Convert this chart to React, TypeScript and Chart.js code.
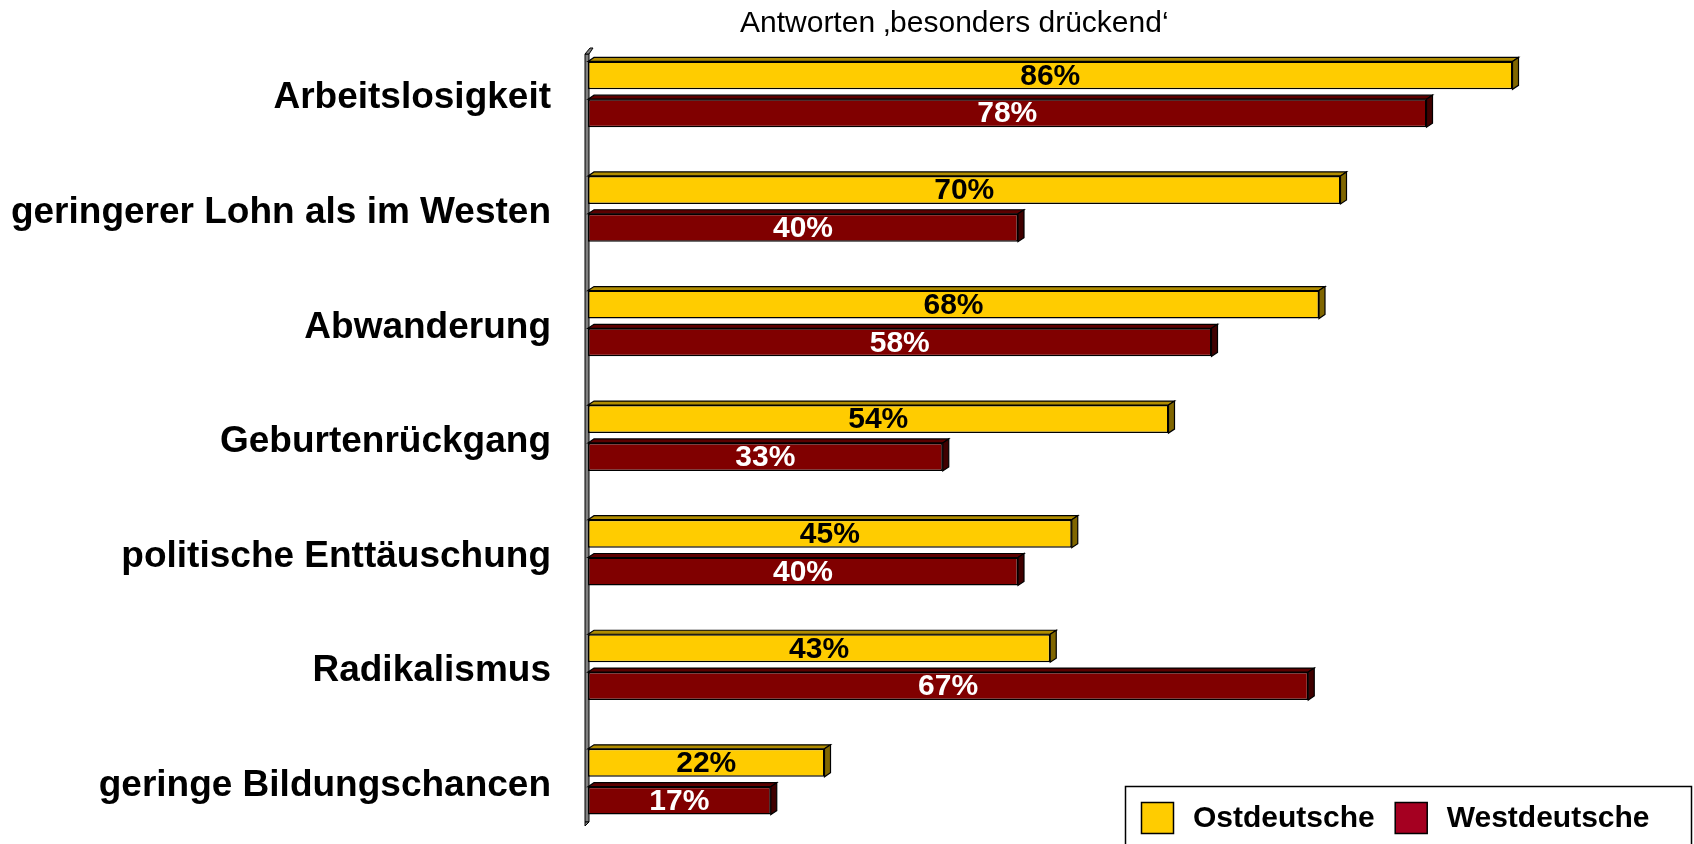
import React, { useEffect, useRef } from "react";
import { Chart, registerables } from "chart.js";

Chart.register(...registerables);

const categories = [
  "Arbeitslosigkeit",
  "geringerer Lohn als im Westen",
  "Abwanderung",
  "Geburtenrückgang",
  "politische Enttäuschung",
  "Radikalismus",
  "geringe Bildungschancen",
];
const ostValues = [86, 70, 68, 54, 45, 43, 22];
const westValues = [78, 40, 58, 33, 40, 67, 17];
const seriesNames = ["Ostdeutsche", "Westdeutsche"];
const titleText = "Antworten ‚besonders drückend‘";

const FONT = "'Liberation Sans', Arial, sans-serif";
const YELLOW = "#FFCC00";
const YELLOW_TOP = "#B08C00";
const YELLOW_SIDE = "#806600";
const RED = "#800000";
const RED_TOP = "#5C0000";
const RED_SIDE = "#400000";
const LEGEND_RED = "#A50021";

const threeD = {
  id: "threeD",
  beforeDatasetsDraw(chart: any) {
    const ctx = chart.ctx;
    const area = chart.chartArea;
    const x0 = area.left;
    ctx.save();
    ctx.fillStyle = "#808080";
    ctx.strokeStyle = "#000";
    ctx.lineWidth = 1;
    ctx.beginPath();
    ctx.rect(x0 - 3, 54, 4, 768);
    ctx.fill();
    ctx.stroke();
    ctx.beginPath();
    ctx.moveTo(x0 - 3, 54);
    ctx.lineTo(x0 + 2, 48);
    ctx.lineTo(x0 + 5, 48);
    ctx.lineTo(x0 + 1, 54);
    ctx.closePath();
    ctx.fill();
    ctx.stroke();
    ctx.beginPath();
    ctx.moveTo(x0 - 3, 822);
    ctx.lineTo(x0 + 1, 822);
    ctx.lineTo(x0 - 3, 826);
    ctx.closePath();
    ctx.fill();
    ctx.stroke();
    ctx.restore();
  },
  afterDatasetsDraw(chart: any) {
    const ctx = chart.ctx;
    const dx = 6;
    const dy = 4;
    ctx.save();
    chart.data.datasets.forEach((ds: any, di: number) => {
      const meta = chart.getDatasetMeta(di);
      const topC = di === 0 ? YELLOW_TOP : RED_TOP;
      const sideC = di === 0 ? YELLOW_SIDE : RED_SIDE;
      meta.data.forEach((bar: any, i: number) => {
        const p = bar.getProps(["x", "y", "base", "height"], true);
        const left = Math.min(p.base, p.x);
        const right = Math.max(p.base, p.x);
        const top = p.y - p.height / 2;
        const bottom = p.y + p.height / 2;
        ctx.lineWidth = 1.2;
        ctx.strokeStyle = "#000";
        ctx.fillStyle = topC;
        ctx.beginPath();
        ctx.moveTo(left, top);
        ctx.lineTo(left + dx, top - dy);
        ctx.lineTo(right + dx, top - dy);
        ctx.lineTo(right, top);
        ctx.closePath();
        ctx.fill();
        ctx.stroke();
        ctx.fillStyle = sideC;
        ctx.beginPath();
        ctx.moveTo(right, top);
        ctx.lineTo(right + dx, top - dy);
        ctx.lineTo(right + dx, bottom - dy);
        ctx.lineTo(right, bottom);
        ctx.closePath();
        ctx.fill();
        ctx.stroke();
        ctx.font = `bold 30px ${FONT}`;
        ctx.textAlign = "center";
        ctx.textBaseline = "middle";
        ctx.fillStyle = di === 0 ? "#000" : "#FFF";
        ctx.fillText(ds.data[i] + "%", (left + right) / 2, p.y + 1);
      });
    });
    ctx.restore();
  },
  afterDraw(chart: any) {
    const ctx = chart.ctx;
    ctx.save();
    ctx.font = `30px ${FONT}`;
    ctx.fillStyle = "#000";
    ctx.textAlign = "left";
    ctx.textBaseline = "alphabetic";
    ctx.fillText(titleText, 740, 32);
    ctx.strokeStyle = "#000";
    ctx.lineWidth = 1.5;
    ctx.fillStyle = "#FFF";
    ctx.beginPath();
    ctx.rect(1125.5, 786.5, 566, 70);
    ctx.fill();
    ctx.stroke();
    ctx.font = `bold 30px ${FONT}`;
    ctx.textBaseline = "middle";
    const colors = [YELLOW, LEGEND_RED];
    let x = 1141;
    seriesNames.forEach((name, i) => {
      ctx.fillStyle = colors[i];
      ctx.lineWidth = 1.5;
      ctx.beginPath();
      ctx.rect(x + 0.5, 802.5, 32, 31);
      ctx.fill();
      ctx.stroke();
      ctx.fillStyle = "#000";
      ctx.fillText(name, x + 52, 819);
      x = x + 52 + ctx.measureText(name).width + 20;
    });
    ctx.restore();
  },
};

export default function App() {
  const ref = useRef<HTMLCanvasElement | null>(null);
  useEffect(() => {
    document.body.style.margin = "0";
    const canvas = ref.current;
    if (!canvas) return;
    const chart = new Chart(canvas, {
      type: "bar",
      data: {
        labels: categories,
        datasets: [
          {
            label: seriesNames[0],
            data: ostValues,
            backgroundColor: YELLOW,
            borderColor: "#000",
            borderWidth: 1.5,
            borderSkipped: false,
            barPercentage: 0.74,
            categoryPercentage: 0.66,
          },
          {
            label: seriesNames[1],
            data: westValues,
            backgroundColor: RED,
            borderColor: "#000",
            borderWidth: 1.5,
            borderSkipped: false,
            barPercentage: 0.74,
            categoryPercentage: 0.66,
          },
        ],
      },
      options: {
        indexAxis: "y",
        responsive: false,
        animation: false,
        devicePixelRatio: 1,
        layout: { padding: { top: 37, bottom: 5, left: 0, right: 31 } },
        plugins: {
          legend: { display: false },
          title: { display: false },
          tooltip: { enabled: false },
        },
        scales: {
          x: { display: false, min: 0, max: 100 },
          y: {
            grid: { display: false, drawTicks: false },
            border: { display: false },
            ticks: {
              padding: 37,
              labelOffset: 4,
              color: "#000",
              font: { family: FONT, size: 37, weight: "bold" },
            },
            afterFit(scale: any) {
              scale.width = 588;
              scale.paddingTop = 0;
              scale.paddingBottom = 0;
            },
          },
        },
      },
      plugins: [threeD],
    });
    return () => chart.destroy();
  }, []);
  return (
    <div style={{ width: 1694, height: 844 }}>
      <canvas ref={ref} width={1694} height={844} style={{ display: "block" }} />
    </div>
  );
}
